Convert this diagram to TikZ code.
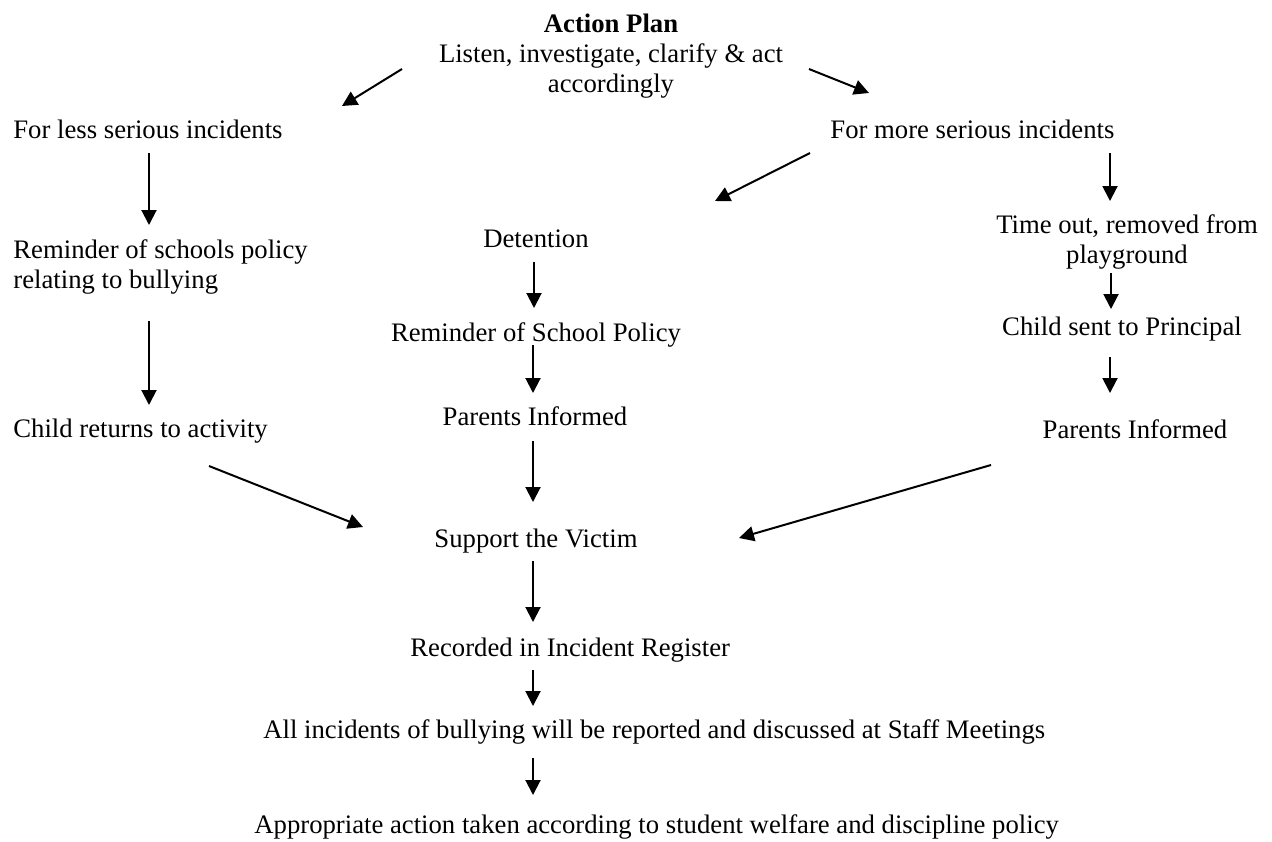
\documentclass[tikz,border=0pt]{standalone}
\usepackage{fontspec}
\setmainfont{Liberation Serif}
\usetikzlibrary{arrows.meta}
\tikzset{
  txt/.style={inner sep=0pt, anchor=base},
  txtl/.style={inner sep=0pt, anchor=base west},
  arr/.style={line width=1pt, -{Triangle[length=7.5pt,width=7.5pt]}}
}
\begin{document}
\begin{tikzpicture}[x=0.5pt,y=-0.5pt,font=\fontsize{13.35}{15}\selectfont]
\useasboundingbox (0,0) rectangle (1272,841);
% heading
\node[txt] (plan) at (611,32) {\bfseries Action Plan};
\node[txt] (listen) at (611,62) {Listen, investigate, clarify \& act};
\node[txt] (accord) at (611,92) {accordingly};
% the three columns
\node[txtl] (less) at (13,138) {For less serious incidents};
\node[txtl] (more) at (830,138) {For more serious incidents};
\node[txtl, align=left] (remind) at (13,288) {Reminder of schools policy\\relating to bullying};
\node[txtl] (back) at (13,437) {Child returns to activity};
\node[txt] (det) at (536,247) {Detention};
\node[txt] (policy) at (536,341) {Reminder of School Policy};
\node[txt] (parentsM) at (535,425) {Parents Informed};
\node[txt, align=center] (timeout) at (1127,263) {Time out, removed from\\playground};
\node[txt] (principal) at (1122,335) {Child sent to Principal};
\node[txt] (parentsR) at (1135,438) {Parents Informed};
% common tail
\node[txt] (victim) at (536,547) {Support the Victim};
\node[txtl] (register) at (410,656) {Recorded in Incident Register};
\node[txtl] (meetings) at (263,738) {All incidents of bullying will be reported and discussed at Staff Meetings};
\node[txtl] (welfare) at (254,833) {Appropriate action taken according to student welfare and discipline policy};
% arrow ends
\coordinate (planL) at (402,69);  \coordinate (lessIn) at (342,106);
\coordinate (planR) at (809,69);  \coordinate (moreIn) at (869,93);
\coordinate (lessOut) at (149,153); \coordinate (remindIn) at (149,225);
\coordinate (remindOut) at (149,321); \coordinate (backIn) at (149,405);
\coordinate (moreL) at (810,153); \coordinate (detIn) at (715,201);
\coordinate (moreR) at (1110,153); \coordinate (timeoutIn) at (1110,201);
\coordinate (detOut) at (534,262); \coordinate (policyIn) at (534,308);
\coordinate (timeoutOut) at (1111,273); \coordinate (principalIn) at (1111,309);
\coordinate (policyOut) at (533,345); \coordinate (parentsMIn) at (533,393);
\coordinate (principalOut) at (1110,357); \coordinate (parentsRIn) at (1110,393);
\coordinate (parentsMOut) at (533,441); \coordinate (victimTop) at (533,502);
\coordinate (backOut) at (209,466); \coordinate (victimL) at (363,527);
\coordinate (parentsROut) at (991,465); \coordinate (victimR) at (739,538);
\coordinate (victimOut) at (533,561); \coordinate (registerIn) at (533,622);
\coordinate (registerOut) at (533,670); \coordinate (meetingsIn) at (533,706);
\coordinate (meetingsOut) at (533,758); \coordinate (welfareIn) at (533,795);
\foreach \a/\b in {planL/lessIn, planR/moreIn, lessOut/remindIn, remindOut/backIn,
  moreL/detIn, moreR/timeoutIn, detOut/policyIn, timeoutOut/principalIn,
  policyOut/parentsMIn, principalOut/parentsRIn, parentsMOut/victimTop,
  backOut/victimL, parentsROut/victimR, victimOut/registerIn,
  registerOut/meetingsIn, meetingsOut/welfareIn}
  \draw[arr] (\a) -- (\b);
\end{tikzpicture}
\end{document}
